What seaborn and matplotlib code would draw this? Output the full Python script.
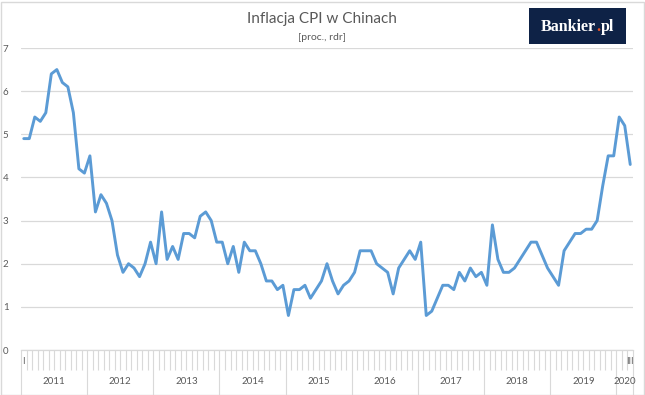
import numpy as np
import pandas as pd
import seaborn as sns
import matplotlib.pyplot as plt
import matplotlib.transforms as mtransforms
from matplotlib.patches import Rectangle

# dane: inflacja CPI w Chinach, r/r, styczeń 2011 - marzec 2020
years = ["2011", "2012", "2013", "2014", "2015", "2016", "2017", "2018", "2019", "2020"]
months_per_year = [12, 12, 12, 12, 12, 12, 12, 12, 12, 3]
cpi = [
    4.9, 4.9, 5.4, 5.3, 5.5, 6.4, 6.5, 6.2, 6.1, 5.5, 4.2, 4.1,
    4.5, 3.2, 3.6, 3.4, 3.0, 2.2, 1.8, 2.0, 1.9, 1.7, 2.0, 2.5,
    2.0, 3.2, 2.1, 2.4, 2.1, 2.7, 2.7, 2.6, 3.1, 3.2, 3.0, 2.5,
    2.5, 2.0, 2.4, 1.8, 2.5, 2.3, 2.3, 2.0, 1.6, 1.6, 1.4, 1.5,
    0.8, 1.4, 1.4, 1.5, 1.2, 1.4, 1.6, 2.0, 1.6, 1.3, 1.5, 1.6,
    1.8, 2.3, 2.3, 2.3, 2.0, 1.9, 1.8, 1.3, 1.9, 2.1, 2.3, 2.1,
    2.5, 0.8, 0.9, 1.2, 1.5, 1.5, 1.4, 1.8, 1.6, 1.9, 1.7, 1.8,
    1.5, 2.9, 2.1, 1.8, 1.8, 1.9, 2.1, 2.3, 2.5, 2.5, 2.2, 1.9,
    1.7, 1.5, 2.3, 2.5, 2.7, 2.7, 2.8, 2.8, 3.0, 3.8, 4.5, 4.5,
    5.4, 5.2, 4.3,
]
first_month_label = "I"
last_month_label = "III"
y_ticks = [0, 1, 2, 3, 4, 5, 6, 7]

df = pd.DataFrame({"idx": np.arange(len(cpi)), "cpi": cpi})

sns.set_style("white")
plt.rcParams['font.family'] = ['Lato', 'DejaVu Sans']

W, H = 645, 395
fig = plt.figure(figsize=(W / 100, H / 100), dpi=100)
# obramowanie wykresu
fig.patches.append(Rectangle((0.5 / W, 0.5 / H), 1 - 2 / W, 1 - 2 / H, transform=fig.transFigure,
                             fill=False, edgecolor="#D9D9D9", linewidth=1))

ax = fig.add_axes([21 / W, 45 / H, 612 / W, 302 / H])
sns.lineplot(data=df, x="idx", y="cpi", ax=ax, color="#5B9BD5", linewidth=2.1)

n = len(cpi)
ax.set_xlim(-0.5, n - 0.5)
ax.set_ylim(0, 7)
ax.set_yticks(y_ticks)
ax.set_yticklabels([str(t) for t in y_ticks], fontsize=7, color="#595959")
ax.tick_params(axis="y", length=0, pad=9)
ax.yaxis.grid(True, color="#D9D9D9", linewidth=0.9)
ax.set_axisbelow(True)
for s in ["top", "right", "left"]:
    ax.spines[s].set_visible(False)
ax.spines["bottom"].set_color("#D9D9D9")
ax.spines["bottom"].set_linewidth(0.9)
ax.set_xlabel("")
ax.set_ylabel("")

# podziałki miesięcy i lat
bounds = np.cumsum([0] + months_per_year) - 0.5
ax.set_xticks(np.arange(n + 1) - 0.5, minor=True)
ax.set_xticks(bounds)
ax.set_xticklabels([])
ax.tick_params(axis="x", which="both", bottom=True, direction="out", color="#D9D9D9", width=0.8)
ax.tick_params(axis="x", which="minor", length=14.5)
ax.tick_params(axis="x", which="major", length=33)

trans = mtransforms.blended_transform_factory(ax.transData, ax.transAxes)
for i, y in enumerate(years):
    c = (bounds[i] + bounds[i + 1]) / 2
    ax.text(c, -32 / 302, y, transform=trans, ha="center", va="center", fontsize=7, color="#595959")
ax.text(0, -11 / 302, first_month_label, transform=trans, ha="center", va="center", fontsize=6.5, color="#595959")
ax.text(n - 1, -11 / 302, last_month_label, transform=trans, ha="center", va="center", fontsize=6.5, color="#595959")

# tytuł
fig.text(322 / W, 1 - 19 / H, "Inflacja CPI w Chinach", ha="center", va="center", fontsize=11, color="#595959")
fig.text(322 / W, 1 - 38 / H, "[proc., rdr]", ha="center", va="center", fontsize=7.5, color="#595959")

# logo
fig.patches.append(Rectangle((529 / W, 1 - 44 / H), 97 / W, 36 / H, transform=fig.transFigure,
                             facecolor="#0E2246", edgecolor="none"))
renderer = fig.canvas.get_renderer()
logo_kw = dict(va="center", fontsize=11.5, fontweight="bold", family="Liberation Serif")
parts = [("Bankier", "white"), (".", "#E8542A"), ("pl", "white")]
texts = [fig.text(0, 1 - 27 / H, p, color=c, ha="left", **logo_kw) for p, c in parts]
widths = [t.get_window_extent(renderer).width for t in texts]
x0 = 577.5 - sum(widths) / 2
for t, w in zip(texts, widths):
    t.set_x(x0 / W)
    x0 += w

fig.savefig("out.png", dpi=100)
